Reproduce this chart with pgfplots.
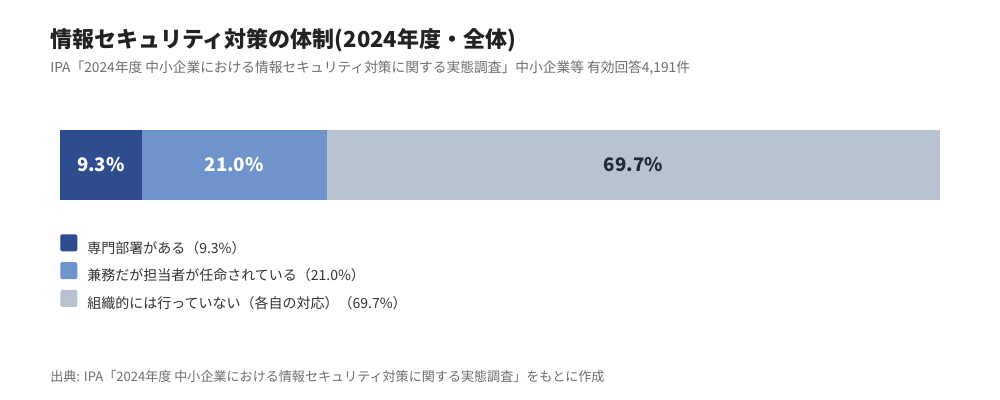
\documentclass[border=0pt]{standalone}
\usepackage{fontspec}
\setmainfont{Noto Sans CJK JP}
\usepackage{pgfplots}
\pgfplotsset{compat=1.18}
\definecolor{cDark}{HTML}{2E4D8E}
\definecolor{cMid}{HTML}{6F93CB}
\definecolor{cGray}{HTML}{B9C2D1}
\definecolor{cTitle}{HTML}{222222}
\definecolor{cSub}{HTML}{6E6E6E}
\definecolor{cText}{HTML}{333333}
\definecolor{cLab}{HTML}{1F2A3C}
\begin{document}
\begin{tikzpicture}
% canvas in pixel units, y downwards
\begin{scope}[x=0.75pt,y=-0.75pt]
  \fill[white] (0,0) rectangle (1000,400);
  \path[use as bounding box] (0,0) rectangle (1000,400);
  \node[anchor=base west, inner sep=0pt, text=cTitle,
        font=\bfseries\fontsize{16.5}{18}\selectfont] at (50,47)
        {情報セキュリティ対策の体制(2024年度・全体)};
  \node[anchor=base west, inner sep=0pt, text=cSub,
        font=\fontsize{10.3}{12}\selectfont] at (50,72)
        {IPA「2024年度 中小企業における情報セキュリティ対策に関する実態調査」中小企業等 有効回答4,191件};
  \node[anchor=base west, inner sep=0pt, text=cSub,
        font=\fontsize{9.8}{12}\selectfont] at (50,381)
        {出典: IPA「2024年度 中小企業における情報セキュリティ対策に関する実態調査」をもとに作成};
\end{scope}

\begin{axis}[
  at={(45pt,-97.5pt)}, anchor=north west,
  scale only axis, width=660pt, height=52.5pt,
  xbar stacked, bar width=1,
  xmin=0, xmax=100, ymin=0.5, ymax=1.5,
  hide axis,
  legend style={at={(axis description cs:0,0)}, anchor=north west,
    yshift=-25.5pt, draw=none, fill=none, inner sep=0pt,
    nodes={inner sep=0pt, text=cText, font=\fontsize{10.5}{12}\selectfont},
    row sep=5.25pt, column sep=7.5pt},
  legend cell align=left,
  legend image code/.code={
    \fill[#1, rounded corners=1.5pt] (0pt,-2.4pt) rectangle (12.75pt,10.35pt);},
]
  \addplot[fill=cDark, draw=none] coordinates {(9.3,1)};
  \addplot[fill=cMid, draw=none] coordinates {(21.0,1)};
  \addplot[fill=cGray, draw=none] coordinates {(69.7,1)};
  \legend{専門部署がある（9.3\%）,兼務だが担当者が任命されている（21.0\%）,組織的には行っていない（各自の対応）（69.7\%）}

  \coordinate (l1) at (axis cs:4.65,1);
  \coordinate (l2) at (axis cs:19.8,1);
  \coordinate (l3) at (axis cs:65.15,1);
\end{axis}
\node[text=white, font=\bfseries\fontsize{14}{14}\selectfont] at (l1) {9.3\%};
\node[text=white, font=\bfseries\fontsize{14}{14}\selectfont] at (l2) {21.0\%};
\node[text=cLab, font=\bfseries\fontsize{14}{14}\selectfont] at (l3) {69.7\%};
\end{tikzpicture}
\end{document}
